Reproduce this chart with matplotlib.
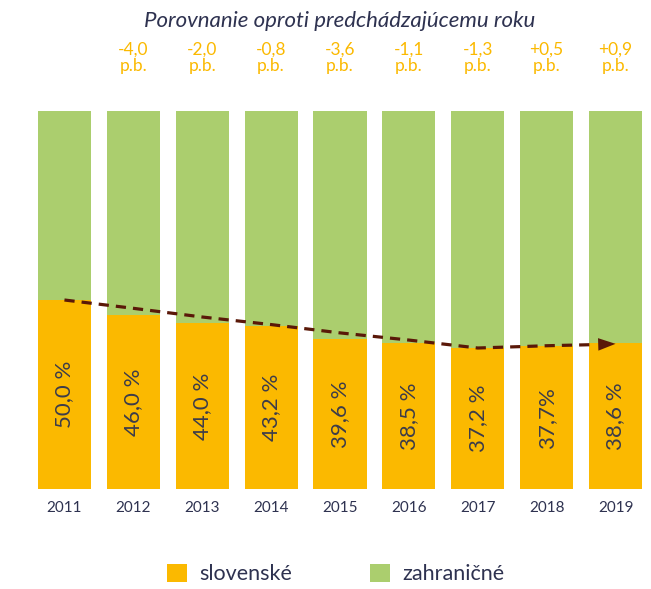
import matplotlib.pyplot as plt
import numpy as np

plt.rcParams['font.family'] = ['Lato', 'DejaVu Sans']

years = ['2011', '2012', '2013', '2014', '2015', '2016', '2017', '2018', '2019']
slovenske = [50.0, 46.0, 44.0, 43.2, 39.6, 38.5, 37.2, 37.7, 38.6]
value_labels = ['50,0 %', '46,0 %', '44,0 %', '43,2 %', '39,6 %', '38,5 %',
                '37,2 %', '37,7%', '38,6 %']
change_labels = ['', '-4,0', '-2,0', '-0,8', '-3,6', '-1,1', '-1,3', '+0,5', '+0,9']
# dashed trend line (percent)
trend = [50.0, 47.8, 45.5, 43.5, 41.3, 39.4, 37.3, 37.9, 38.4]

orange = '#fbb900'
green = '#abce6e'
navy = '#2e3250'
brown = '#5a1808'

fig = plt.figure(figsize=(6.51, 5.89), dpi=100)
ax = fig.add_axes([30 / 651, 100 / 589, 620 / 651, 378 / 589])

x = np.arange(len(years))
zahranicne = [100 - v for v in slovenske]
ax.bar(x, slovenske, width=0.77, color=orange, label='slovenské')
ax.bar(x, zahranicne, width=0.77, bottom=slovenske, color=green, label='zahraničné')

for i, v in enumerate(slovenske):
    ax.text(i, v / 2, value_labels[i], rotation=90, ha='center', va='center',
            fontsize=16, color='#3c3c4a')
    if change_labels[i]:
        ax.text(i, 114.0, change_labels[i] + '\np.b.', ha='center', va='center',
                fontsize=12.5, color=orange, linespacing=1.05, clip_on=False)

# trend line with arrow head
ax.plot(list(x[:8]) + [7.7], trend[:8] + [38.2], color=brown, lw=2.3,
        dashes=(3.2, 2.2), zorder=3)
ax.annotate('', xy=(8.0, trend[8]), xytext=(7.65, 38.2),
            arrowprops=dict(arrowstyle='-|>,head_length=1.25,head_width=0.45',
                            color=brown, lw=0, shrinkA=0, shrinkB=0), zorder=4)

ax.set_xlim(-0.5, 8.5)
ax.set_ylim(0, 100)
ax.set_xticks(x)
ax.set_xticklabels(years, fontsize=11, color=navy)
ax.tick_params(length=0, pad=9)
ax.set_yticks([])
for s in ax.spines.values():
    s.set_visible(False)

fig.text(340 / 651, 1 - 21 / 589, 'Porovnanie oproti predchádzajúcemu roku',
         ha='center', va='center', fontsize=16, style='italic', color=navy)

fig.legend(loc='center', bbox_to_anchor=(336 / 651, 1 - 574 / 589), ncol=2,
           frameon=False, fontsize=15.5, handlelength=0.9, handleheight=0.9,
           columnspacing=3.6, handletextpad=0.6, labelcolor=navy)

fig.savefig('out.png', dpi=100)
